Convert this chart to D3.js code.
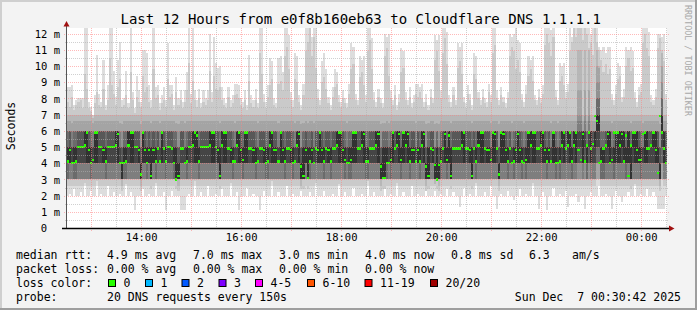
<!DOCTYPE html>
<html>
<head>
	<meta charset="utf-8">
	<title>Smokeping - Cloudflare DNS 1.1.1.1</title>
	<style>
		body {
			margin: 0;
			background: #fff;
		}
		svg {
			display: block;
		}
		text {
			font-family: "DejaVu Sans Mono", monospace;
			fill: #000;
			white-space: pre;
		}
		.ticklabel { font-size: 10.5px; }
		.legend { font-size: 11.5px; }
		.title { font-size: 14px; }
		.vlabel { font-size: 11.5px; }
		.watermark { font-size: 8.4px; fill: #a8a8a8; }
	</style>
</head>
<body>
	<div id="graph"></div>

	<script src="https://cdn.jsdelivr.net/npm/d3@7"></script>
	<script>
	// Settings
	var width      = 697,
		height     = 310,
		plotLeft   = 67,
		plotRight  = 667,
		plotTop    = 28,
		plotBottom = 228,
		yMax       = 12.346 // top of the canvas, in ms

	// 288 steps of 150 s, the last one ending at 00:31
	var stepSeconds = 150
	var startTime   = Date.UTC(2025, 11, 6, 12, 31, 0)

	// Median rtt per step (ms)
	var median = [
		4.1,4.8,4,4,4.1,5,5,5,5.1,5.9, 4.8,4,4.2,5.9,5.9,5,5,4.8,4.1,5,
		5,5,5,5.1,5.8,4,4,4,4.1,5.1, 5.9,5.9,5,5,4.8,3.3,5.9,4.8,4,4.8,
		3.2,4.8,4.1,4.9,4.1,5.9,4.9,4.1,5,5, 4.9,4,3,3.2,4.9,4.9,4,4.1,5,5,
		5.1,5.9,5.7,4.1,5,5,5,5,5.1,5.9, 5.9,5,
		4.8,3.2,5.1,5.9,5.9,4.9,4.8,4.1,4.1,5.1, 5.9,4.8,4.2,5.9,5.9,4.9,4.9,4.8,4,4.1,
		4.9,4.9,4.8,4,4.1,5.1,5.9,4.8,4.8,4.1, 5.9,4.8,4.1,4.9,4.9,4.8,4,4.1,5.1,5.8,
		3.8,3.2,4.8,3.1,4.1,4.8,4,4.9,4.8,5.9, 4.8,4.1,4.9,4.8,4.1,4.9,4.9,5.1,5.9,5.9,
		4.8,4.2,4,4,4.2,5.9,5.9,4.9,4.9,5.1, 5.8,4.1,
		4.1,4.9,4.9,4.9,5.1,5.8,3.8,3.1,3.1,4, 4,4.2,5.9,4.9,5.1,5.8,4.2,5.9,5.1,5.8,
		4.1,4.8,4.8,4.1,4.8,4.1,5.1,5.8,3.8,3.2, 4.9,4.8,3.9,3,3.9,4.1,4.9,5.8,4.2,5.7,
		3.2,4.9,4.9,4.9,4.9,5.1,5.9,4.9,4.9,4.8, 3.2,4.9,4.1,5.1,5.9,5.9,4.9,4.8,4.8,4.2,
		5.9,5.8,4.9,3.3,5.9,5.8,4.8,4.1,4.9,4, 4.1,4.8,
		5.8,4.8,4.1,4,4.2,5.9,5.1,5.9,5.9,4.9, 4.9,5.1,5.9,4.8,4.1,4.8,4.1,5.9,4,4,
		4.1,5.1,5.9,4.9,5.1,5.9,4.1,5.1,5.9,4.8, 4.2,5.8,4.1,5.1,5.9,4.9,5.2,6.9,6.6,4,
		4.1,4.9,5.1,5.8,4,4.2,5.9,5.9,5.9,5.1, 5.8,4.1,5.7,3.2,5.1,5.9,5.9,4.8,4.2,4.2,
		5.8,5.9,4.9,4.9,5.1,5.9,4.8,3.4,6.9,5.9, 4.9,4
	]

	// Fastest ping of each step (ms)
	var rttMin = [
		2,2.1,2,2.4,2,2,2.2,2,2.8,2, 2,2.3,2,2,2.9,2,2.1,2,2,2.6,
		2,2,2.2,2,2,2.1,2,2,2.7,2, 2.2,2,1.1,2,2,2,2.4,2,2,2.1,
		2,2,2.8,2,2,2,2.2,1.1,2,2, 2.3,2,2,2,1.1,1.1,1.1,2,2.1,2,
		2,2.9,2,2,2.2,2,2,2.6,2,2, 2,2.1,2,2,2.4,2,2,2,2.8,2,
		2,2.2,1.1,2,2,2,2.5,2,2,2.1, 2,2,1.1,2,2.3,2,2,2,2.9,2,
		2,2.2,2,2,2,2.6,2,2,2.1,2, 2,2,2.4,2,2,2,2.2,2,2,2.8,
		2,2,2,2.3,2,2,2,2.1,2,2, 2.7,2,2,2.2,2,2,2,2.5,2,2,
		2,2.1,2,2,2.9,2,2,2.2,2,2, 2,2,2.4,2,2,2.1,2,2,2.8,2,
		2,2.2,2,2,2,2.6,2,2,2.1,2, 2,2,2.3,2,2,2,2.7,2,2,2.1,
		2,2,2.4,2,2,2.2,2,2,1.3,2, 2.5,2,2,2.1,2,2,2.8,2,2,2,
		2.2,2,2,2.6,2,2,1.2,2,2.1,2, 2,2.3,2,2,1.7,2,2,2.4,2,2,
		2.1,2,2,2.8,2,2,1.2,2,2.2,2, 1.1,2,2,2.5,2,2,2.1,2,2,2.3,
		1.3,2,2,2,2.1,1.6,2,2,1.2,2, 2,2.2,2,2,2,2.6,2,2,2.1,2,
		2,1.2,2,2.3,2,2,1.6,2,2,2.2, 2,2,2.7,2,2,2.1,2,2,2.4,2,
		2,2.2,2,1.2,1.2,1.2,1.2,2
	]

	// Second slowest ping of each step (ms)
	var rtt19 = [
		7.8,7.5,8.1,7.3,7.6,7.8,7.9,7.4,9.5,8.6, 7.4,7.2,6.8,7.7,8.4,7.6,7.5,8.6,7.3,7.9,
		10.5,8.8,8.3,7.6,8.7,9.2,7.5,7.6,8.2,7.4, 9.6,7.9,7.1,8.1,7.8,7.5,9.4,8.4,8.7,7.8,
		7.4,9.8,8,8.2,7.3,7.7,7.9,7.5,9.2,8.1, 8.3,7.3,8.4,7.6,7.9,7.4,7.8,8.5,10.2,7.7,
		9.1,7.9,7.5,8,7.4,7.8,7.6,7.9,9.7,7.8, 9.4,8.6,8.5,8.7,7.9,7.6,7.4,8.1,7.5,7.7,
		8.2,8.3,8,7.6,7.4,7.9,7.3,9.1,7.7,7.5, 7.9,7.4,10.8,9.5,7.8,7.4,8.1,8.8,9.2,7.6,
		7.4,8.9,9.1,8.5,10.6,11.2,9.8,7.9,7.5,9.2, 9,7.8,7.3,8.2,10.9,11.5,12.4,10.6,11.8,9.9,
		8,7.6,9,9.3,8.6,7.7,7.3,8.1,8.7,8.9, 7.8,7.5,8,7.7,7.4,8.3,9.8,10.1,7.9,7.6,
		9.3,9.6,8.8,7.8,10.9,11.6,9.8,7.9,7.5,8.1, 7.7,7.4,10.6,11.1,9.4,8,7.6,8.2,7.3,7.8,
		9.6,9.9,7.9,7.6,8.1,7.4,7.8,8.3,8.1,8.4, 8,7.5,7.8,7.3,8.1,7.7,10.4,10.9,9.7,8,
		10.8,11.7,10.1,7.8,7.5,8.2,7.6,9.9,10.3,9.5, 7.8,7.4,8.3,7.9,7.3,9.5,9.2,8,7.6,8.1,
		7.7,7.5,8.4,7.8,10.8,11.3,8,7.6,8.2,7.8, 7.4,8,10.6,11.2,10.9,9.8,10.4,9.6,7.9,7.5,
		8.3,9.4,9.8,9.1,7.9,7.6,8.1,7.7,8.3,11.3, 12,11.4,10.6,11.8,8.1,7.6,9.1,9.4,8.8,8,
		8.4,10.9,11.5,12.4,11.8,12.4,12.4,11.6,12.4,12, 11.1,12,10.7,12.4,11.5,9.9,10.4,9.6,10.1,9.5,
		9.8,7.9,7.6,8.3,9.2,9.4,7.8,8.1,10,10.5, 9.7,9.9,8,7.5,8.2,8.4,11.4,12,11.1,10.6,
		7.8,7.6,8.1,11.1,11.7,10.8,10.3,7.9
	]

	// Slowest ping of each step (ms)
	var rttMax = [
		8.7,8.7,8.8,7.6,7.9,8,8,8,12.4,12.4, 7.8,7.5,7,8.2,10.7,8.3,7.8,10.4,7.6,8.8,
		12.4,12.4,9.7,8.1,10.4,11.5,7.9,8,9.7,7.7, 12.4,8.4,7.4,9.4,8.5,7.8,11,11,10.8,8.8,
		7.9,12.4,8.7,8.8,7.7,8.2,8.7,7.9,11.4,8.8, 8.8,7.6,9.3,8,8.5,7.8,8.5,9.6,12.4,8.3,
		12.4,8.5,7.9,8.6,7.7,8.5,8,8.5,12,8.4, 11.8,10.2,9.9,10,8.7,8,7.7,8.7,7.9,8.2,
		8.9,8.9,8.8,8,7.8,8.5,7.6,10.7,8.2,7.9, 8.6,7.7,12.4,12.4,8.3,7.8,8.8,10.5,10.3,8,
		7.7,10.5,10.6,9.6,12.4,12.4,11.9,8.4,7.9,10.8, 10.6,8.2,7.6,8.9,12.4,12.4,12.4,11.8,12.4,12.4,
		8.6,7.9,10.3,10.8,9.8,8.1,7.6,8.7,9.8,9.6, 8.2,7.8,8.5,8,7.7,8.9,11.4,11.2,8.3,7.9,
		10.6,10.4,10.6,8.2,12.4,12.4,11.7,8.4,7.8,8.6, 8,7.7,12,11.8,12,8.5,7.9,8.8,7.6,8.3,
		11.1,10.9,8.4,7.9,8.7,7.7,8.2,8.9,8.9,8.7, 8.9,7.8,8.3,7.6,8.6,8,11.9,11.6,11.9,8.5,
		12.4,12.4,12.1,8.2,7.8,8.7,7.9,11.4,11.2,11.4, 8.1,7.7,8.8,8.3,7.6,10.8,10.6,8.4,7.9,8.6,
		8,7.8,8.9,8.2,12.4,12.4,8.5,7.9,8.7,8.1, 7.7,8.4,12,11.8,12,12.4,11.6,11.4,8.3,7.8,
		8.8,10.6,10.4,10.6,8.2,7.9,8.6,8,8.8,12.4, 12.4,12.4,12.2,12.4,8.5,7.9,10.2,10,10.2,8.4,
		8.9,12.4,11.8,12.4,12.4,12.4,12.4,12.4,12.4,12.4, 12.4,11.5,12.4,12.4,12.4,11.2,11,11.2,10.8,11.2,
		11.2,8.3,7.9,8.8,10.2,10,8.1,8.6,11.2,11, 11.2,10.9,8.4,7.8,8.7,8.9,12.4,12.4,12.4,12.1,
		8.2,7.9,8.6,12,12,11.8,12,8.3
	]

	// The 17 pings in between, read as one of a few recurring profiles
	var coreShapes = {
		a: [2.6,3,3,3,3,3,4,4,4,5,5,5,6,6,6,6.6,7],
		b: [2.6,3,3,3,3,4,4,4,5,5,5,6,6,6,6,6.6,7],
		c: [2.6,3,3,3,3,4,4,4,4,5,5,6,6,6,6,6.6,7],
		d: [2.6,3,3,3,3,4,4,4,5,6,6,6,6,6,6,6.6,7],
		e: [2.6,3,3,3,3,4,4,4,4,6,6,6,6,6,6,6.6,7],
		f: [2.4,3,3,3,3,3,3,3,3,5,5,5,6,6,6,6.5,7],
		g: [2.3,2.6,3,3,3,3,3,3,3,4,4,5,5,5,6,6.4,7],
		h: [3,3,3,4,4,4,5,5,6,7,7,7,8,8,9,10,11],
		i: [2.6,3,3,3,4,4,4,5,5,5,6,6,6,6.6,7,8.5,11],
		j: [2.6,3,3,3,3,4,4,4,4,4,5,5,5,6,6,6.5,7]
	}
	var shapeKeys = [
		"acjaabbbdecajeebbcabbbbdejgaadeebbcgecacfcabjebabbbafgbbjabbdeeabbbbdeeb",
		"cfdeebcajdecaeebbcajbbcaadeccjecabbcajdegfcfacjbcecabcabbdeecajaaeebbdea",
		"abbbdegffajaebdeaedeaccjcadegfbcgfgabeaefbbbbdebbcfbadeebccjeebgeecabjac",
		"ecajaedeebbdecacjeajadebdeadeiieiaiebdhhaabdejaeeedeaefdeecajeebbdecgheba"
	].join("")

	// Axis and legend texts
	var yTicks       = [0,1,2,3,4,5,6,7,8,9,10,11,12]
	var xLabelHours  = [14, 16, 18, 20, 22, 24]
	var statsRtt     = ["median rtt:", "4.9 ms avg", "7.0 ms max", "3.0 ms min", "4.0 ms now", "0.8 ms sd", "6.3", "am/s"]
	var statsLoss    = ["packet loss:", "0.00 % avg", "0.00 % max", "0.00 % min", "0.00 % now"]
	var lossLabels   = ["0", "1", "2", "3", "4-5", "6-10", "11-19", "20/20"]
	var lossColors   = ["#26ff00", "#00b8ff", "#0059ff", "#7e00ff", "#ff00ff", "#ff5500", "#ff0000", "#a00000"]
	var probeText    = "20 DNS requests every 150s"
	var dateText     = "Sun Dec  7 00:30:42 2025"
	var titleText    = "Last 12 Hours from e0f8b160eb63 to Cloudflare DNS 1.1.1.1"

	// Smoke shades, outermost pair first
	var shades = ["#dddddd","#cacaca","#b7b7b7","#a4a4a4","#919191","#7e7e7e","#6b6b6b","#585858","#454545","#323232"]

	// Build the steps
	var steps = median.map(function(m, i){
		var vals = [rttMin[i]].concat(coreShapes[shapeKeys[i]], [rtt19[i], rttMax[i]])
		vals.sort(function(a, b){ return a - b })
		return { t: new Date(startTime + i*stepSeconds*1000), m: m, v: vals }
	})
	var endTime = new Date(startTime + steps.length*stepSeconds*1000)
	// step-after curves need a closing point
	var last = steps[steps.length - 1]
	var stepsClosed = steps.concat([{ t: endTime, m: last.m, v: last.v }])

	// Scales
	var x = d3.scaleUtc().domain([new Date(startTime), endTime]).range([plotLeft, plotRight])
	var y = d3.scaleLinear().domain([0, yMax]).range([plotBottom, plotTop])
	var cp = function(v){ return y(Math.min(v, yMax)) }

	// The canvas
	var svg = d3.select("#graph").append("svg")
		.attr("width", width)
		.attr("height", height)

	// Background and bevel
	svg.append("rect").attr("width", width).attr("height", height).attr("fill", "#f3f3f3")
	svg.append("path").attr("d", "M0,0H697V2H2V310H0Z").attr("fill", "#cfcfcf")
	svg.append("path").attr("d", "M697,0V310H0V308H695V0Z").attr("fill", "#9e9e9e")
	svg.append("rect")
		.attr("x", plotLeft).attr("y", plotTop)
		.attr("width", plotRight - plotLeft).attr("height", plotBottom - plotTop)
		.attr("fill", "#fff")

	// Smoke: pair k spans ping k .. ping 21-k
	shades.forEach(function(col, k){
		var area = d3.area()
			.curve(d3.curveStepAfter)
			.x(function(d){ return x(d.t) })
			.y0(function(d){ return cp(d.v[k]) })
			.y1(function(d){ return cp(d.v[19 - k]) })
		svg.append("path")
			.datum(stepsClosed)
			.attr("d", area)
			.attr("fill", col)
			.attr("shape-rendering", "crispEdges")
	})

	// Median, loss 0 colour, one pixel either side
	var medArea = d3.area()
		.curve(d3.curveStepAfter)
		.x(function(d){ return x(d.t) })
		.y0(function(d){ return y(d.m) + 1.2 })
		.y1(function(d){ return y(d.m) - 1.2 })
	svg.append("path")
		.datum(stepsClosed)
		.attr("d", medArea)
		.attr("fill", lossColors[0])
		.attr("shape-rendering", "crispEdges")

	// Grid, on top of the graph like rrdtool does
	var grid = svg.append("g").attr("fill", "none").attr("stroke-dasharray", "1,1")
	d3.range(0.5, 12.5, 1).forEach(function(v){
		grid.append("line")
			.attr("x1", plotLeft - 2).attr("x2", plotRight + 2)
			.attr("y1", Math.round(y(v)) + 0.5).attr("y2", Math.round(y(v)) + 0.5)
			.attr("stroke", "#b0b0b0").attr("stroke-opacity", 0.6)
	})
	d3.utcMinute.every(30).range(new Date(startTime), endTime).forEach(function(t){
		if (t.getUTCMinutes() === 0) return
		grid.append("line")
			.attr("x1", Math.round(x(t)) + 0.5).attr("x2", Math.round(x(t)) + 0.5)
			.attr("y1", plotTop).attr("y2", plotBottom + 2)
			.attr("stroke", "#b0b0b0").attr("stroke-opacity", 0.6)
	})
	yTicks.slice(1).forEach(function(v){
		grid.append("line")
			.attr("x1", plotLeft - 3).attr("x2", plotRight + 2)
			.attr("y1", Math.round(y(v)) + 0.5).attr("y2", Math.round(y(v)) + 0.5)
			.attr("stroke", "#ff8080").attr("stroke-opacity", 0.55)
	})
	d3.utcHour.range(new Date(startTime), endTime).forEach(function(t){
		grid.append("line")
			.attr("x1", Math.round(x(t)) + 0.5).attr("x2", Math.round(x(t)) + 0.5)
			.attr("y1", plotTop).attr("y2", plotBottom + 3)
			.attr("stroke", "#ff8080").attr("stroke-opacity", 0.55)
	})

	// Axes lines and arrows
	svg.append("line")
		.attr("x1", plotLeft - 0.5).attr("x2", plotLeft - 0.5)
		.attr("y1", plotBottom).attr("y2", plotTop - 4)
		.attr("stroke", "#555")
	svg.append("line")
		.attr("x1", plotLeft - 5).attr("x2", plotRight + 4)
		.attr("y1", plotBottom + 0.5).attr("y2", plotBottom + 0.5)
		.attr("stroke", "#000").attr("stroke-width", 1.4)
	svg.append("path")
		.attr("d", "M" + (plotLeft - 3.5) + "," + (plotTop - 1.5) + "h6l-3,-5.5z")
		.attr("fill", "#a01010")
	svg.append("path")
		.attr("d", "M" + (plotRight + 2) + "," + (plotBottom - 2.5) + "v6l5.5,-3z")
		.attr("fill", "#a01010")

	// Tick labels through d3 axes
	var yAxis = d3.axisLeft(y)
		.tickValues(yTicks)
		.tickSize(0)
		.tickPadding(7)
		.tickFormat(function(d){ return d === 0 ? "0" : d + " m" })
	var gy = svg.append("g").attr("transform", "translate(" + plotLeft + ",0)").call(yAxis)
	gy.select(".domain").remove()
	gy.selectAll("text").attr("class", "ticklabel").attr("dy", "0.36em")
		.filter(function(d){ return d === 0 }).attr("dx", -13)

	var labelTimes = xLabelHours.map(function(h){ return new Date(Date.UTC(2025, 11, 6, h, 0, 0)) })
	var xAxis = d3.axisBottom(x)
		.tickValues(labelTimes)
		.tickSize(0)
		.tickPadding(5.5)
		.tickFormat(d3.utcFormat("%H:%M"))
	var gx = svg.append("g").attr("transform", "translate(0," + plotBottom + ")").call(xAxis)
	gx.select(".domain").remove()
	gx.selectAll("text").attr("class", "ticklabel")

	// Titles
	svg.append("text").attr("class", "title")
		.attr("x", 120.5).attr("y", 24)
		.text(titleText)
	svg.append("text").attr("class", "vlabel")
		.attr("transform", "translate(15,126) rotate(-90)")
		.attr("text-anchor", "middle")
		.text("Seconds")
	svg.append("text").attr("class", "watermark")
		.attr("transform", "translate(685,5) rotate(90)")
		.text("RRDTOOL / TOBI OETIKER")

	// Legend
	var legend = svg.append("g").attr("class", "legend")
	var rttCols = [16, 107, 193, 279, 365, 451, 529, 572]
	statsRtt.forEach(function(s, i){
		legend.append("text").attr("x", rttCols[i]).attr("y", 259).text(s)
	})
	statsLoss.forEach(function(s, i){
		legend.append("text").attr("x", rttCols[i]).attr("y", 273).text(s)
	})
	legend.append("text").attr("x", 16).attr("y", 287).text("loss color:")
	var swatchX = [108.5, 145.5, 182, 219, 255.5, 307.5, 365, 430.5]
	lossLabels.forEach(function(s, i){
		legend.append("rect")
			.attr("x", swatchX[i]).attr("y", 279.5)
			.attr("width", 7).attr("height", 7)
			.attr("fill", lossColors[i]).attr("stroke", "#000")
		legend.append("text").attr("x", swatchX[i] + 15).attr("y", 287).text(s)
	})
	legend.append("text").attr("x", 16).attr("y", 301).text("probe:")
	legend.append("text").attr("x", 107).attr("y", 301).text(probeText)
	legend.append("text").attr("x", 681).attr("y", 301).attr("text-anchor", "end").text(dateText)
	</script>
</body>
</html>
